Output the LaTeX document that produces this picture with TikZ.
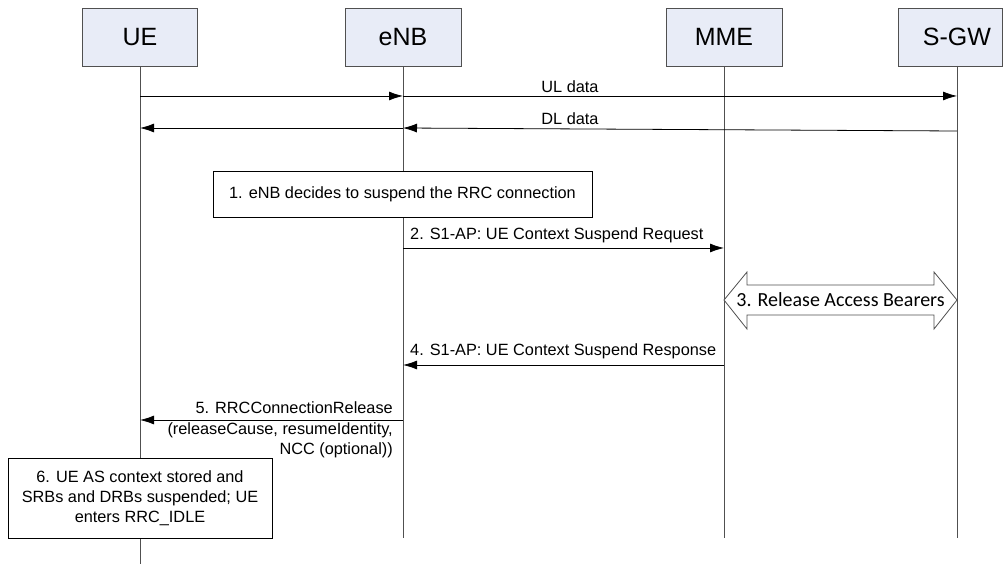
\documentclass[tikz,border=0pt]{standalone}
\usepackage{fontspec}
\setmainfont{Liberation Sans}
\newfontfamily\carlitofont{Carlito}
\usetikzlibrary{arrows.meta}
\definecolor{hdrfill}{RGB}{232,236,247}
\definecolor{linegray}{RGB}{80,80,80}
\begin{document}
\begin{tikzpicture}[x=1pt,y=-1pt,
  hdr/.style={draw=linegray, fill=hdrfill, minimum height=58pt, inner sep=0pt, line width=0.8pt, font=\fontsize{25}{29}\selectfont},
  life/.style={draw=linegray, line width=0.8pt},
  msg/.style={draw=black, line width=0.8pt, -{Latex[length=14pt,width=9pt]}},
  lbl/.style={font=\fontsize{16.3}{20}\selectfont, inner sep=0pt},
  note/.style={draw=black, line width=0.9pt, fill=white, inner sep=0pt, align=center, font=\fontsize{16.3}{20}\selectfont},
  bigarrow/.style={draw=linegray, fill=white, line width=0.8pt, line join=miter},
]
\useasboundingbox (0,0) rectangle (1005,564);

% headers
\node[hdr, minimum width=115pt] (ue)  at (140,37) {UE};
\node[hdr, minimum width=116pt] (enb) at (403,37) {eNB};
\node[hdr, minimum width=116pt] (mme) at (724,37) {MME};
\node[hdr, minimum width=104pt] (sgw) at (950,37) {\hspace{14pt}S-GW};
\coordinate (sgwL) at (957,66);

% lifeline ends
\coordinate (ueEnd)  at (140,564);
\coordinate (enbEnd) at (403,538);
\coordinate (mmeEnd) at (724,538);
\coordinate (sgwEnd) at (957,538);

\draw[life] (ue.south)  -- (ueEnd);
\draw[life] (enb.south) -- (enbEnd);
\draw[life] (mme.south) -- (mmeEnd);
\draw[life] (sgwL) -- (sgwEnd);

% message levels
\coordinate (yUL)  at (0,96);
\coordinate (yDLa) at (0,131);
\coordinate (yDLb) at (0,128);
\coordinate (y2)   at (0,248);
\coordinate (y4)   at (0,365);
\coordinate (y5)   at (0,420);

% UL data
\draw[msg] (ue |- yUL) -- (enb |- yUL);
\draw[msg] (enb |- yUL) -- (sgwL |- yUL);
\node[lbl] (ullbl) at (570,87) {UL data};

% DL data
\draw[msg] (sgwL |- yDLa) -- (enb |- yDLb);
\draw[msg] (enb |- yDLb) -- (ue |- yDLb);
\node[lbl] (dllbl) at (570,119) {DL data};

% step 1
\node[note, minimum width=379pt, minimum height=46pt] (s1) at (402.5,194) {1. eNB decides to suspend the RRC connection};

% step 2
\draw[msg] (enb |- y2) -- (mme |- y2);
\node[lbl, anchor=west] (s2) at (410,235) {2. S1-AP: UE Context Suspend Request};

% step 3 double arrow
\draw[bigarrow] (724,300) -- (747,272) -- (747,285) -- (934,285) -- (934,272) -- (957,300)
  -- (934,329) -- (934,315) -- (747,315) -- (747,329) -- cycle;
\node[inner sep=0pt, font=\carlitofont\fontsize{20}{24}\selectfont] (s3) at (840.5,300) {3. Release Access Bearers};

% step 4
\draw[msg] (mme |- y4) -- (enb |- y4);
\node[lbl, anchor=west] (s4) at (410,351) {4. S1-AP: UE Context Suspend Response};

% step 5
\draw[msg] (enb |- y5) -- (ue |- y5);
\node[lbl, anchor=east, align=right, font=\fontsize{16.3}{20.5}\selectfont] (s5) at (393,430)
  {5. RRCConnectionRelease\\(releaseCause, resumeIdentity,\\NCC (optional))};

% step 6
\node[note, minimum width=264pt, minimum height=80pt] (s6) at (140,498)
  {6. UE AS context stored and\\SRBs and DRBs suspended; UE\\enters RRC\_IDLE};
\end{tikzpicture}
\end{document}
